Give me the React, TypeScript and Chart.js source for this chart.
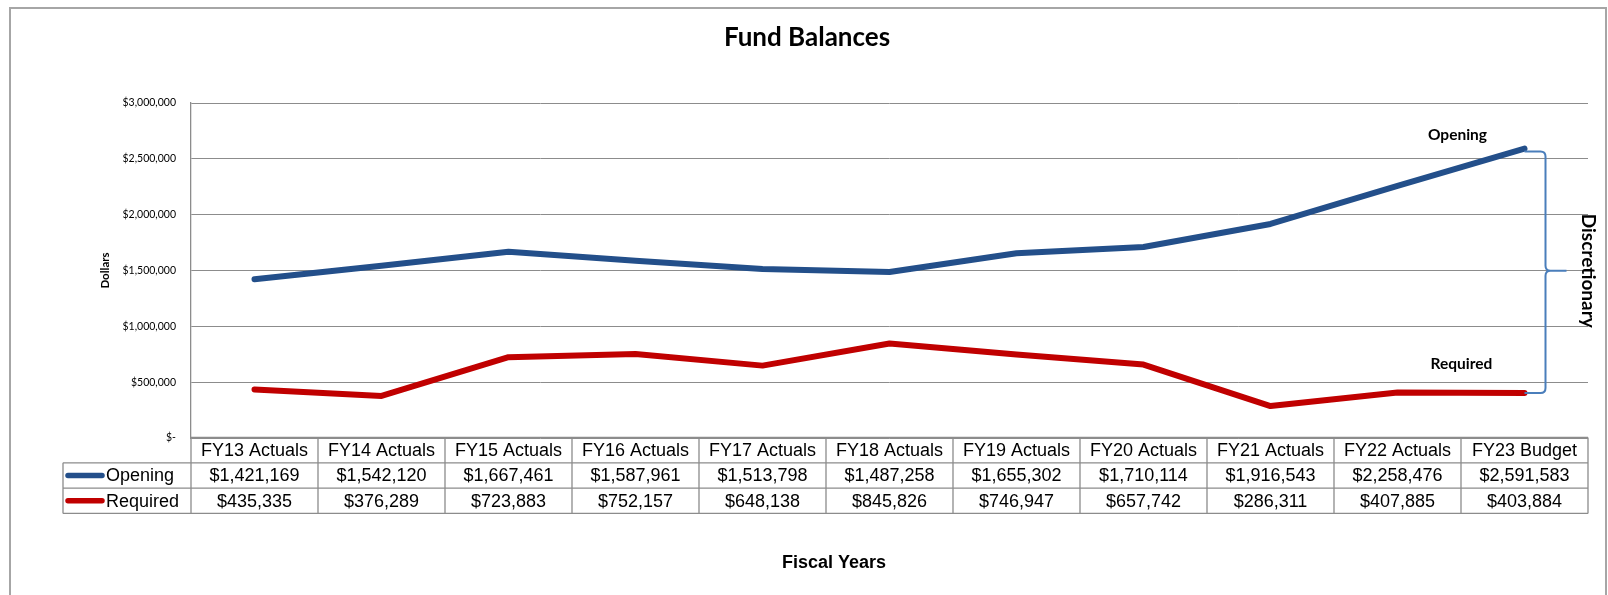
import React, { useEffect, useRef } from "react";
import { Chart, registerables } from "chart.js";

Chart.register(...registerables);

const categories = [
  "FY13 Actuals",
  "FY14 Actuals",
  "FY15 Actuals",
  "FY16 Actuals",
  "FY17 Actuals",
  "FY18 Actuals",
  "FY19 Actuals",
  "FY20 Actuals",
  "FY21 Actuals",
  "FY22 Actuals",
  "FY23 Budget",
];
const openingValues = [
  1421169, 1542120, 1667461, 1587961, 1513798, 1487258, 1655302, 1710114,
  1916543, 2258476, 2591583,
];
const requiredValues = [
  435335, 376289, 723883, 752157, 648138, 845826, 746947, 657742, 286311,
  407885, 403884,
];
const seriesNames = ["Opening", "Required"];
const seriesColors = ["#234f8a", "#c00000"];
const yMin = 0;
const yMax = 3000000;
const yStep = 500000;

const chartTitle = "Fund Balances";
const yTitle = "Dollars";
const xTitle = "Fiscal Years";
const bracketLabel = "Discretionary";

const fmtMoney = (v: number) =>
  v === 0 ? "$-" : "$" + Math.round(v).toLocaleString("en-US");

const GRID = "#8c8c8c";
const FONT_CAL = "Lato, 'Open Sans', sans-serif";
const FONT_ARIAL = "'Liberation Sans', Arial, sans-serif";

const customPlugin = {
  id: "customDraw",
  beforeDraw(chart: any) {
    const ctx = chart.ctx;
    ctx.save();
    ctx.fillStyle = "#ffffff";
    ctx.fillRect(0, 0, chart.width, chart.height);
    // outer frame
    ctx.strokeStyle = "#a6a6a6";
    ctx.lineWidth = 2;
    ctx.beginPath();
    ctx.moveTo(10, chart.height);
    ctx.lineTo(10, 8);
    ctx.lineTo(1606, 8);
    ctx.lineTo(1606, chart.height);
    ctx.stroke();
    ctx.restore();
  },
  afterDraw(chart: any) {
    const ctx = chart.ctx;
    const xs = chart.scales.x;
    const ys = chart.scales.y;
    const area = chart.chartArea;
    const n = categories.length;
    const colW = (area.right - area.left) / n;
    const rowH = 25.3;
    const top = area.bottom - 0.5;
    const legendLeft = 63;

    ctx.save();
    // title
    ctx.fillStyle = "#000";
    ctx.textAlign = "center";
    ctx.textBaseline = "middle";
    ctx.font = `bold 26px ${FONT_CAL}`;
    ctx.fillText(chartTitle, 807, 38);

    // y title
    ctx.save();
    ctx.translate(105, (area.top + area.bottom) / 2);
    ctx.rotate(-Math.PI / 2);
    ctx.font = `bold 11.5px ${FONT_CAL}`;
    ctx.fillText(yTitle, 0, 0);
    ctx.restore();

    // x title
    ctx.font = `bold 18px ${FONT_ARIAL}`;
    ctx.fillText(xTitle, 834, 563);

    // data table grid
    ctx.strokeStyle = "#8c8c8c";
    ctx.lineWidth = 1.3;
    ctx.beginPath();
    ctx.moveTo(area.left, top);
    ctx.lineTo(area.right, top);
    for (let r = 1; r <= 3; r++) {
      const y = top + r * rowH;
      ctx.moveTo(legendLeft, y);
      ctx.lineTo(area.right, y);
    }
    for (let c = 0; c <= n; c++) {
      const x = area.left + c * colW;
      ctx.moveTo(x, top);
      ctx.lineTo(x, top + 3 * rowH);
    }
    ctx.moveTo(legendLeft, top + rowH);
    ctx.lineTo(legendLeft, top + 3 * rowH);
    ctx.stroke();

    ctx.fillStyle = "#000";
    ctx.font = `18px ${FONT_ARIAL}`;
    ctx.textAlign = "center";
    for (let i = 0; i < n; i++) {
      const cx = xs.getPixelForValue(i);
      ctx.fillText(categories[i], cx, top + rowH * 0.5 + 1);
      ctx.fillText(fmtMoney(openingValues[i]), cx, top + rowH * 1.5 + 1);
      ctx.fillText(fmtMoney(requiredValues[i]), cx, top + rowH * 2.5 + 1);
    }
    // legend cells
    for (let s = 0; s < 2; s++) {
      const cy = top + rowH * (1.5 + s);
      ctx.strokeStyle = seriesColors[s];
      ctx.lineWidth = 5.5;
      ctx.lineCap = "round";
      ctx.beginPath();
      ctx.moveTo(68, cy);
      ctx.lineTo(102, cy);
      ctx.stroke();
      ctx.fillStyle = "#000";
      ctx.textAlign = "left";
      ctx.fillText(seriesNames[s], 106, cy + 1);
    }

    // bracket annotation
    const last = n - 1;
    const xl = xs.getPixelForValue(last);
    const yo = ys.getPixelForValue(openingValues[last]);
    const yr = ys.getPixelForValue(requiredValues[last]);
    const bx = xl + 21;
    const ym = (yo + yr) / 2;
    const rr = 5;
    ctx.strokeStyle = "#4a7ebb";
    ctx.lineWidth = 2;
    ctx.lineCap = "butt";
    ctx.beginPath();
    ctx.moveTo(xl, yo + 3);
    ctx.lineTo(bx - rr, yo + 3);
    ctx.quadraticCurveTo(bx, yo + 3, bx, yo + 3 + rr);
    ctx.lineTo(bx, ym - rr);
    ctx.quadraticCurveTo(bx, ym, bx + rr, ym);
    ctx.lineTo(xl + 42, ym);
    ctx.moveTo(bx + rr, ym);
    ctx.quadraticCurveTo(bx, ym, bx, ym + rr);
    ctx.lineTo(bx, yr - rr);
    ctx.quadraticCurveTo(bx, yr, bx - rr, yr);
    ctx.lineTo(xl, yr);
    ctx.stroke();

    ctx.fillStyle = "#000";
    ctx.textAlign = "center";
    ctx.font = `bold 15.5px ${FONT_CAL}`;
    ctx.fillText(seriesNames[0], xl - 67, yo - 14);
    ctx.fillText(seriesNames[1], xl - 63, yr - 29);

    ctx.save();
    ctx.translate(xl + 64, ym);
    ctx.rotate(Math.PI / 2);
    ctx.font = `bold 19px ${FONT_CAL}`;
    ctx.fillText(bracketLabel, 0, 0);
    ctx.restore();

    ctx.restore();
  },
};

export default function App() {
  const ref = useRef<HTMLCanvasElement | null>(null);

  useEffect(() => {
    if (!ref.current) return;
    const chart = new Chart(ref.current, {
      type: "line",
      data: {
        labels: categories,
        datasets: [
          {
            label: seriesNames[0],
            data: openingValues,
            borderColor: seriesColors[0],
            backgroundColor: seriesColors[0],
            borderWidth: 6,
            pointRadius: 0,
            tension: 0,
            borderCapStyle: "round",
            borderJoinStyle: "round",
          },
          {
            label: seriesNames[1],
            data: requiredValues,
            borderColor: seriesColors[1],
            backgroundColor: seriesColors[1],
            borderWidth: 6,
            pointRadius: 0,
            tension: 0,
            borderCapStyle: "round",
            borderJoinStyle: "round",
          },
        ],
      },
      options: {
        responsive: false,
        animation: false,
        devicePixelRatio: 1,
        layout: { padding: { left: 0, top: 103, right: 20, bottom: 157 } },
        plugins: {
          legend: { display: false },
          title: { display: false },
          tooltip: { enabled: false },
        },
        scales: {
          x: {
            type: "category",
            display: false,
            offset: true,
          },
          y: {
            min: yMin,
            max: yMax,
            afterFit: (s: any) => {
              s.width = 191;
            },
            ticks: {
              stepSize: yStep,
              padding: 15,
              color: "#000",
              font: { family: "Lato", size: 10.5 },
              callback: (v: any) => fmtMoney(Number(v)),
            },
            grid: { color: GRID, lineWidth: 1, drawTicks: false },
            border: { display: true, color: GRID, width: 1.3 },
          },
        },
      },
      plugins: [customPlugin],
    });
    return () => chart.destroy();
  }, []);

  return (
    <div style={{ position: "fixed", left: 0, top: 0, width: 1608, height: 595 }}>
      <canvas ref={ref} width={1608} height={595} style={{ display: "block" }} />
    </div>
  );
}
